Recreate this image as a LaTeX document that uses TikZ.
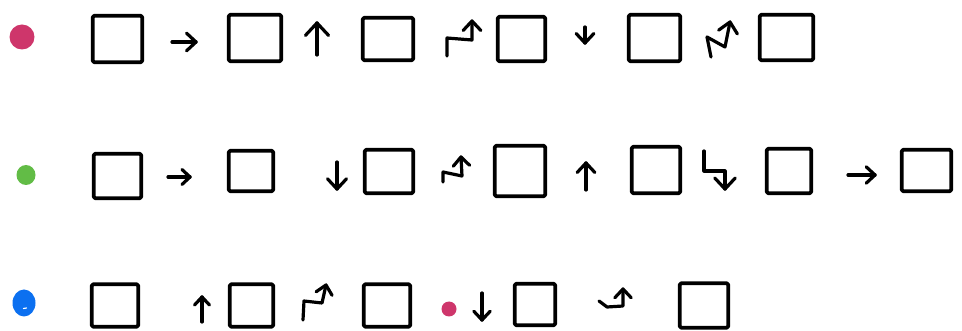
\documentclass[tikz,border=0pt]{standalone}
\usetikzlibrary{calc}
\definecolor{dotpink}{RGB}{206,54,107}
\definecolor{dotgreen}{RGB}{98,188,70}
\definecolor{dotblue}{RGB}{12,112,240}
\newcommand\sketchhead[3][12pt]{\draw[sketchline] ($(#2)!#1!43:(#3)$) -- (#2) -- ($(#2)!#1!-43:(#3)$);}
\begin{document}
\begin{tikzpicture}[x=1pt,y=-1pt,
  sketchbox/.style={draw=black, line width=3.8pt, rounded corners=1.5pt, line join=round, inner sep=0pt, outer sep=0pt, fill=none},
  sketchline/.style={draw=black, line width=3.2pt, line cap=round, line join=round},
]
\useasboundingbox (0,0) rectangle (962,331);
% dots
\fill[dotpink] (22,37) circle[radius=12.5];
\fill[dotgreen] (26,175) ellipse[x radius=9.5, y radius=10];
\fill[dotblue] (24,303) ellipse[x radius=11.5, y radius=13.5];
\draw[white, line width=1.2pt, line cap=round] (23.5,308.5) -- (26.5,308);
\fill[dotpink] (449,309) circle[radius=7.5];
% row 1 boxes
\node[sketchbox, minimum width=49.5pt, minimum height=46.5pt] (b11) at (117.5,39) {};
\node[sketchbox, minimum width=52.5pt, minimum height=46.5pt] (b12) at (255,38) {};
\node[sketchbox, minimum width=50.5pt, minimum height=42.5pt] (b13) at (388,39) {};
\node[sketchbox, minimum width=47.5pt, minimum height=44.5pt] (b14) at (521.5,39) {};
\node[sketchbox, minimum width=51.5pt, minimum height=46.5pt] (b15) at (654.5,38) {};
\node[sketchbox, minimum width=53.5pt, minimum height=45.5pt] (b16) at (786.5,37.5) {};
% row 2 boxes
\node[sketchbox, minimum width=47.5pt, minimum height=44.5pt] (b21) at (117.5,176) {};
\node[sketchbox, minimum width=44.5pt, minimum height=40.5pt] (b22) at (251,171) {};
\node[sketchbox, minimum width=48.5pt, minimum height=43.5pt] (b23) at (389,171.5) {};
\node[sketchbox, minimum width=50.5pt, minimum height=50.5pt] (b24) at (520,171) {};
\node[sketchbox, minimum width=48.5pt, minimum height=46.5pt] (b25) at (656,170) {};
\node[sketchbox, minimum width=44.5pt, minimum height=44.5pt] (b26) at (789,171) {};
\node[sketchbox, minimum width=49.5pt, minimum height=41.5pt] (b27) at (926.5,170.5) {};
% row 3 boxes
\node[sketchbox, minimum width=46.5pt, minimum height=42.5pt] (b31) at (115,305.5) {};
\node[sketchbox, minimum width=43.5pt, minimum height=42.5pt] (b32) at (251.5,305.5) {};
\node[sketchbox, minimum width=46.5pt, minimum height=42.5pt] (b33) at (387,305.5) {};
\node[sketchbox, minimum width=40.5pt, minimum height=41.5pt] (b34) at (535,304.5) {};
\node[sketchbox, minimum width=48.5pt, minimum height=44.5pt] (b35) at (704,305.5) {};
% row 1 arrows
\draw[sketchline] (172,42) coordinate (a1p) -- (196,42) coordinate (a1t); \sketchhead[13pt]{a1t}{a1p}
\draw[sketchline] (317,55) coordinate (a2p) -- (317,23) coordinate (a2t); \sketchhead[17pt]{a2t}{a2p}
\draw[sketchline] (447,56) -- (447,38) -- (472,40) coordinate (a3p) -- (472,21) coordinate (a3t); \sketchhead[13pt]{a3t}{a3p}
\draw[sketchline] (585,27) coordinate (a4p) -- (585,43) coordinate (a4t); \sketchhead[13pt]{a4t}{a4p}
\draw[sketchline] (711,57) -- (707,37) -- (725,47) coordinate (a5p) -- (730,22) coordinate (a5t); \sketchhead[14pt]{a5t}{a5p}
% row 2 arrows
\draw[sketchline] (168,177) coordinate (a6p) -- (190,177) coordinate (a6t); \sketchhead[11pt]{a6t}{a6p}
\draw[sketchline] (337,162) coordinate (a7p) -- (337,189) coordinate (a7t); \sketchhead[14pt]{a7t}{a7p}
\draw[sketchline] (443,182) -- (443,172) -- (462,176) coordinate (a8p) -- (461,157) coordinate (a8t); \sketchhead[12pt]{a8t}{a8p}
\draw[sketchline] (586,190) coordinate (a9p) -- (586,163) coordinate (a9t); \sketchhead[13pt]{a9t}{a9p}
\draw[sketchline] (704,151) -- (704,171) -- (725,171) coordinate (a10p) -- (725,189) coordinate (a10t); \sketchhead[15pt]{a10t}{a10p}
\draw[sketchline] (848,175) coordinate (a11p) -- (875,175) coordinate (a11t); \sketchhead[12pt]{a11t}{a11p}
% row 3 arrows
\draw[sketchline] (202,322) coordinate (a12p) -- (202,297) coordinate (a12t); \sketchhead[11pt]{a12t}{a12p}
\draw[sketchline] (303,320) -- (304,301) -- (322,303) coordinate (a13p) -- (326,285) coordinate (a13t); \sketchhead[12pt]{a13t}{a13p}
\draw[sketchline] (482,293) coordinate (a14p) -- (482,320) coordinate (a14t); \sketchhead[12pt]{a14t}{a14p}
\draw[sketchline] (599,301) -- (607,307) -- (623,306) coordinate (a15p) -- (623,289) coordinate (a15t); \sketchhead[12pt]{a15t}{a15p}
\end{tikzpicture}
\end{document}
